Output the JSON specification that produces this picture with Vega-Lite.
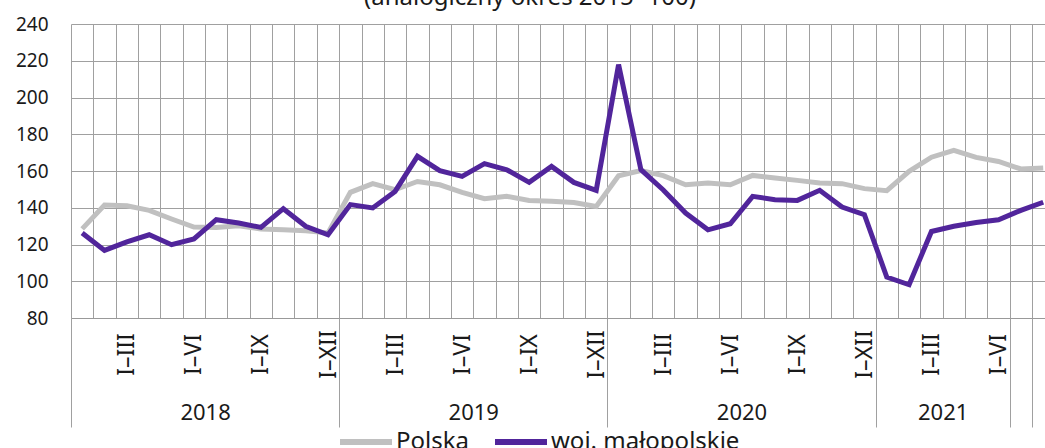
{
  "$schema": "https://vega.github.io/schema/vega-lite/v6.json",
  "autosize": "none",
  "width": 974,
  "height": 294,
  "padding": {"left": 71, "top": 24, "right": 0, "bottom": 130},
  "background": "white",
  "title": {
    "text": "(analogiczny okres 2015=100)",
    "anchor": "middle",
    "dx": -28,
    "baseline": "alphabetic",
    "offset": -14,
    "fontSize": 24,
    "fontWeight": "normal",
    "font": "Noto Sans",
    "color": "#1a1a1a"
  },
  "config": {
    "view": {"stroke": null},
    "font": "Noto Sans",
    "axis": {"labelColor": "#1a1a1a", "labelFont": "Noto Sans"}
  },
  "data": {
    "values": [
      {"n": 1, "s": "Polska", "v": 128.5}, {"n": 2, "s": "Polska", "v": 141.5}, {"n": 3, "s": "Polska", "v": 141.1}, {"n": 4, "s": "Polska", "v": 138.6},
      {"n": 5, "s": "Polska", "v": 133.9}, {"n": 6, "s": "Polska", "v": 129.5}, {"n": 7, "s": "Polska", "v": 129.2}, {"n": 8, "s": "Polska", "v": 130.2},
      {"n": 9, "s": "Polska", "v": 128.4}, {"n": 10, "s": "Polska", "v": 128.0}, {"n": 11, "s": "Polska", "v": 127.5}, {"n": 12, "s": "Polska", "v": 126.3},
      {"n": 13, "s": "Polska", "v": 148.4}, {"n": 14, "s": "Polska", "v": 153.1}, {"n": 15, "s": "Polska", "v": 149.8}, {"n": 16, "s": "Polska", "v": 154.3},
      {"n": 17, "s": "Polska", "v": 152.5}, {"n": 18, "s": "Polska", "v": 148.4}, {"n": 19, "s": "Polska", "v": 144.9}, {"n": 20, "s": "Polska", "v": 146.2},
      {"n": 21, "s": "Polska", "v": 144.0}, {"n": 22, "s": "Polska", "v": 143.5}, {"n": 23, "s": "Polska", "v": 142.9}, {"n": 24, "s": "Polska", "v": 140.7},
      {"n": 25, "s": "Polska", "v": 157.4}, {"n": 26, "s": "Polska", "v": 160.3}, {"n": 27, "s": "Polska", "v": 157.5}, {"n": 28, "s": "Polska", "v": 152.5},
      {"n": 29, "s": "Polska", "v": 153.5}, {"n": 30, "s": "Polska", "v": 152.5}, {"n": 31, "s": "Polska", "v": 157.6}, {"n": 32, "s": "Polska", "v": 156.2},
      {"n": 33, "s": "Polska", "v": 154.9}, {"n": 34, "s": "Polska", "v": 153.5}, {"n": 35, "s": "Polska", "v": 153.1}, {"n": 36, "s": "Polska", "v": 150.4},
      {"n": 37, "s": "Polska", "v": 149.3}, {"n": 38, "s": "Polska", "v": 159.8}, {"n": 39, "s": "Polska", "v": 167.5}, {"n": 40, "s": "Polska", "v": 171.2},
      {"n": 41, "s": "Polska", "v": 167.4}, {"n": 42, "s": "Polska", "v": 165.2}, {"n": 43, "s": "Polska", "v": 161.1}, {"n": 44, "s": "Polska", "v": 161.6},
      {"n": 1, "s": "woj. małopolskie", "v": 126.3}, {"n": 2, "s": "woj. małopolskie", "v": 116.8}, {"n": 3, "s": "woj. małopolskie", "v": 121.4}, {"n": 4, "s": "woj. małopolskie", "v": 125.3},
      {"n": 5, "s": "woj. małopolskie", "v": 119.9}, {"n": 6, "s": "woj. małopolskie", "v": 123.0}, {"n": 7, "s": "woj. małopolskie", "v": 133.5}, {"n": 8, "s": "woj. małopolskie", "v": 131.7},
      {"n": 9, "s": "woj. małopolskie", "v": 129.3}, {"n": 10, "s": "woj. małopolskie", "v": 139.5}, {"n": 11, "s": "woj. małopolskie", "v": 129.9}, {"n": 12, "s": "woj. małopolskie", "v": 125.3},
      {"n": 13, "s": "woj. małopolskie", "v": 141.7}, {"n": 14, "s": "woj. małopolskie", "v": 139.9}, {"n": 15, "s": "woj. małopolskie", "v": 148.9}, {"n": 16, "s": "woj. małopolskie", "v": 168.0},
      {"n": 17, "s": "woj. małopolskie", "v": 160.2}, {"n": 18, "s": "woj. małopolskie", "v": 157.1}, {"n": 19, "s": "woj. małopolskie", "v": 164.0}, {"n": 20, "s": "woj. małopolskie", "v": 160.7},
      {"n": 21, "s": "woj. małopolskie", "v": 153.8}, {"n": 22, "s": "woj. małopolskie", "v": 162.5}, {"n": 23, "s": "woj. małopolskie", "v": 153.8}, {"n": 24, "s": "woj. małopolskie", "v": 149.5},
      {"n": 25, "s": "woj. małopolskie", "v": 217.9}, {"n": 26, "s": "woj. małopolskie", "v": 160.7}, {"n": 27, "s": "woj. małopolskie", "v": 149.7}, {"n": 28, "s": "woj. małopolskie", "v": 137.1},
      {"n": 29, "s": "woj. małopolskie", "v": 128.0}, {"n": 30, "s": "woj. małopolskie", "v": 131.3}, {"n": 31, "s": "woj. małopolskie", "v": 146.2}, {"n": 32, "s": "woj. małopolskie", "v": 144.4},
      {"n": 33, "s": "woj. małopolskie", "v": 144.0}, {"n": 34, "s": "woj. małopolskie", "v": 149.5}, {"n": 35, "s": "woj. małopolskie", "v": 140.4}, {"n": 36, "s": "woj. małopolskie", "v": 136.2},
      {"n": 37, "s": "woj. małopolskie", "v": 102.3}, {"n": 38, "s": "woj. małopolskie", "v": 98.1}, {"n": 39, "s": "woj. małopolskie", "v": 127.1}, {"n": 40, "s": "woj. małopolskie", "v": 129.9},
      {"n": 41, "s": "woj. małopolskie", "v": 132.0}, {"n": 42, "s": "woj. małopolskie", "v": 133.5}, {"n": 43, "s": "woj. małopolskie", "v": 138.6}, {"n": 44, "s": "woj. małopolskie", "v": 143.0}
    ]
  },
  "layer": [
    {
      "mark": {"type": "line", "strokeWidth": 5, "clip": true, "strokeJoin": "miter"},
      "encoding": {
        "x": {
          "field": "n", "type": "quantitative",
          "scale": {"domain": [0.5, 44.08], "nice": false, "zero": false},
          "axis": {
            "orient": "bottom",
            "values": [0.5,1.5,2.5,3.5,4.5,5.5,6.5,7.5,8.5,9.5,10.5,11.5,12.5,13.5,14.5,15.5,16.5,17.5,18.5,19.5,20.5,21.5,22.5,23.5,24.5,25.5,26.5,27.5,28.5,29.5,30.5,31.5,32.5,33.5,34.5,35.5,36.5,37.5,38.5,39.5,40.5,41.5,42.5,43.5],
            "grid": true, "gridColor": "#a0a0a0", "gridWidth": 1,
            "ticks": false, "labels": false, "title": null,
            "domain": true, "domainColor": "#999999"
          }
        },
        "y": {
          "field": "v", "type": "quantitative",
          "scale": {"domain": [80, 240], "nice": false, "zero": false},
          "axis": {
            "values": [80,100,120,140,160,180,200,220,240],
            "grid": true, "gridColor": "#a0a0a0", "ticks": false, "domain": false,
            "title": null, "labelFontSize": 19, "labelPadding": 23
          }
        },
        "color": {
          "field": "s", "type": "nominal",
          "scale": {"domain": ["Polska", "woj. małopolskie"], "range": ["#c0c0c0", "#51259b"]},
          "legend": {
            "title": null, "orient": "none", "direction": "horizontal",
            "legendX": 266, "legendY": 389,
            "symbolType": "stroke", "symbolSize": 2704, "symbolStrokeWidth": 6,
            "labelFontSize": 24, "labelFont": "Noto Sans", "labelColor": "#1a1a1a",
            "labelOffset": 1, "columnPadding": 13, "labelLimit": 400
          }
        }
      }
    },
    {
      "mark": {"type": "point", "opacity": 0},
      "encoding": {
        "x": {
          "field": "n", "type": "quantitative",
          "axis": {
            "orient": "bottom",
            "values": [3,6,9,12,15,18,21,24,27,30,33,36,39,42],
            "labelExpr": "['I–XII','I–III','I–VI','I–IX'][(datum.value % 12) / 3]",
            "labelAngle": 270, "labelAlign": "center", "labelBaseline": "middle",
            "labelPadding": 36, "labelFontSize": 23,
            "ticks": false, "domain": false, "grid": false, "title": null, "labelOverlap": false
          }
        }
      }
    },
    {
      "mark": {"type": "point", "opacity": 0},
      "encoding": {
        "x": {
          "field": "n", "type": "quantitative",
          "axis": {
            "orient": "bottom",
            "values": [6.5, 18.5, 30.5, 39.5],
            "labelExpr": "datum.value < 12 ? '2018' : datum.value < 24 ? '2019' : datum.value < 36 ? '2020' : '2021'",
            "labelAngle": 0, "labelAlign": "center", "labelBaseline": "middle",
            "labelPadding": 94, "labelFontSize": 22,
            "ticks": false, "domain": false, "grid": false, "title": null, "labelOverlap": false
          }
        }
      }
    },
    {
      "mark": {"type": "point", "opacity": 0},
      "encoding": {
        "x": {
          "field": "n", "type": "quantitative",
          "axis": {
            "orient": "bottom",
            "values": [0.5, 12.5, 24.5, 36.5, 42.5, 43.5],
            "labels": false, "ticks": true, "tickSize": 109, "tickColor": "#a0a0a0",
            "domain": false, "grid": false, "title": null
          }
        }
      }
    }
  ],
  "resolve": {"axis": {"x": "independent"}}
}
